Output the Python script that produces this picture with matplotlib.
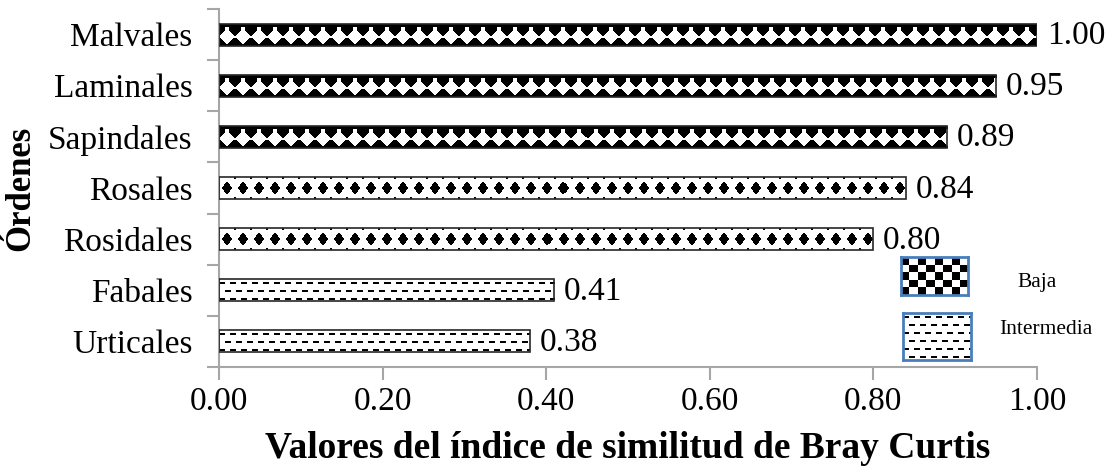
import numpy as np
import matplotlib

matplotlib.use("Agg")
import matplotlib.pyplot as plt

# data (top to bottom as drawn)
orders = ["Malvales", "Laminales", "Sapindales", "Rosales", "Rosidales", "Fabales", "Urticales"]
bray_curtis = [1.00, 0.95, 0.89, 0.84, 0.80, 0.41, 0.38]
similarity = ["Baja", "Baja", "Baja", "Baja", "Baja", "Intermedia", "Intermedia"]
legend_labels = ["Baja", "Intermedia"]
x_ticks = [0.0, 0.2, 0.4, 0.6, 0.8, 1.0]

# pattern per bar (Excel-like pattern fills)
bar_patterns = ["white_diamonds"] * 3 + ["black_diamonds"] * 2 + ["dashes"] * 2

W, H = 1113, 467
plt.rcParams["font.family"] = ["Liberation Serif", "DejaVu Serif"]
grey = "#a6a6a6"


def pattern(kind, h, w):
    yy, xx = np.mgrid[0:h, 0:w]
    if kind == "white_diamonds":
        p = 16
        cx = (xx % p) - p / 2 + 0.5
        cy = yy - 0.58 * (h - 1)
        white = np.abs(cx) / 8.5 + np.abs(cy) / 7.5 <= 1
        neck = (np.abs(cx) < 2.5) & (yy >= 3) & (cy < 0)
        top = yy < 3
        return np.where((white | neck) & ~top, 1.0, 0.0)
    if kind == "black_diamonds":
        p = 16
        cx = (xx % p) - p / 2 + 0.5
        cy = yy - (h - 1) / 2
        black = np.abs(cx) / 5.5 + np.abs(cy) / 6.5 <= 1
        cx2 = np.abs(((xx + p // 2) % p) - p / 2 + 0.5)
        ticks = (cx2 < 1.5) & ((yy < 2) | (yy > h - 3))
        return np.where(black | ticks, 0.0, 1.0)
    # dashes
    row = yy // 8
    shifted = xx + (row % 2) * 5
    dash = ((yy % 8) >= 3) & ((yy % 8) <= 4) & ((shifted % 11) < 6)
    return np.where(dash, 0.0, 1.0)


fig = plt.figure(figsize=(W / 100, H / 100), dpi=100)
ax = fig.add_axes([219 / W, 1 - 367 / H, (1037 - 219) / W, (367 - 9) / H])

n = len(orders)
y_pos = np.arange(n)[::-1]
bar_h = 0.43
ax_w_px = 818
ax_h_px = 358

bars = ax.barh(y_pos, bray_curtis, height=bar_h, color="white", edgecolor="none", zorder=1)
for b, v, y, kind in zip(bars, bray_curtis, y_pos, bar_patterns):
    wpx = int(round(v * ax_w_px))
    hpx = int(round(bar_h * ax_h_px / n))
    img = pattern(kind, hpx, wpx)
    ax.imshow(img, cmap="gray", vmin=0, vmax=1, interpolation="nearest",
              extent=(0, v, y - bar_h / 2, y + bar_h / 2), aspect="auto",
              clip_path=b, zorder=2)
ax.barh(y_pos, bray_curtis, height=bar_h, fill=False, edgecolor="#262626",
        linewidth=1.2, zorder=3)

for v, y in zip(bray_curtis, y_pos):
    ax.annotate(f"{v:.2f}", (v, y), xytext=(7, -1), textcoords="offset points",
                va="center", ha="left", fontsize=24)

ax.set_xlim(0, 1.0)
ax.set_ylim(-0.5, n - 0.5)
ax.set_xticks(x_ticks)
ax.set_xticklabels([f"{t:.2f}" for t in x_ticks], fontsize=24)
ax.set_yticks(y_pos)
ax.set_yticklabels(orders, fontsize=24)
ax.set_yticks(np.arange(n + 1) - 0.5, minor=True)
ax.tick_params(axis="y", which="major", length=0, pad=19)
ax.tick_params(axis="y", which="minor", length=9, color=grey, width=1.5)
ax.tick_params(axis="x", length=9, color=grey, width=1.5, pad=5)
for s in ["top", "right"]:
    ax.spines[s].set_visible(False)
for s in ["left", "bottom"]:
    ax.spines[s].set_color(grey)
    ax.spines[s].set_linewidth(1.5)

ax.set_xlabel("Valores del índice de similitud de Bray Curtis", fontsize=27,
              fontweight="bold", labelpad=10)
ax.set_ylabel("Órdenes", fontsize=25, fontweight="bold", labelpad=8)

# legend drawn as pattern swatches
boxes = [(901, 257, 67, 38), (903, 313, 68, 47)]
text_pos = [(1037, 283), (1046, 329)]
for (x0, y0, bw, bh), label, (tx, ty) in zip(boxes, legend_labels, text_pos):
    lax = fig.add_axes([x0 / W, 1 - (y0 + bh) / H, bw / W, bh / H])
    if label == "Baja":
        rr, cc = np.mgrid[0:5, 0:8]
        img = ((rr + cc) % 2).astype(float)
    else:
        img = pattern("dashes", bh, bw)
    lax.imshow(img, cmap="gray", vmin=0, vmax=1, interpolation="nearest", aspect="auto")
    lax.set_xticks([])
    lax.set_yticks([])
    for s in lax.spines.values():
        s.set_color("#4a7ebb")
        s.set_linewidth(2)
    fig.text(tx / W, 1 - ty / H, label, fontsize=15.5, ha="center", va="center")

fig.savefig("out.png", dpi=100)
